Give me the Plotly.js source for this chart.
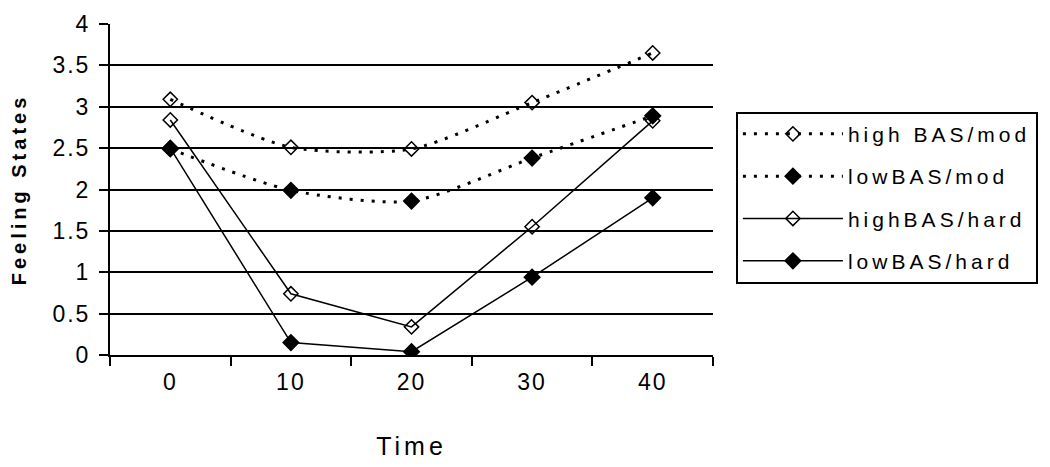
<!DOCTYPE html>
<html>
<head>
<meta charset="utf-8">
<script src="https://cdn.plot.ly/plotly-3.0.1.min.js"></script>
<style>
  html, body { margin: 0; padding: 0; background: #fff; }
  #chart { width: 1050px; height: 467px; }
  /* the old chart draws its text with wide letter spacing */
  .xtick text, .ytick text { letter-spacing: 2px; }
  .legendtext { letter-spacing: 4px; }
  .xtitle { letter-spacing: 4px; }
  .ytitle { letter-spacing: 4px; }
</style>
</head>
<body>
<div id="chart"></div>
<script>
const timePoints = ["0", "10", "20", "30", "40"];
const seriesNames = ["high BAS/mod", "lowBAS/mod", "highBAS/hard", "lowBAS/hard"];
const highBasMod = [3.09, 2.51, 2.49, 3.05, 3.65];
const lowBasMod = [2.49, 1.99, 1.86, 2.38, 2.89];
const highBasHard = [2.84, 0.74, 0.34, 1.55, 2.83];
const lowBasHard = [2.5, 0.15, 0.04, 0.94, 1.9];
const yTicks = [0, 0.5, 1, 1.5, 2, 2.5, 3, 3.5, 4];

function makeTrace(name, values, dotted, filled) {
    return {
        x: timePoints,
        y: values,
        name: name,
        type: "scatter",
        mode: "lines+markers",
        legendgroup: name,
        line: {
            color: "black",
            width: dotted ? 3 : 1.5,
            dash: dotted ? "3px,8px" : "solid",
            shape: dotted ? "spline" : "linear",
            smoothing: 0.7
        },
        marker: {
            symbol: filled ? "diamond" : "diamond-open",
            size: filled ? 12 : 11,
            color: "black",
            line: { color: "black", width: 1.5 }
        }
    };
}

const traces = [
    makeTrace(seriesNames[0], highBasMod, true, false),
    makeTrace(seriesNames[1], lowBasMod, true, true),
    makeTrace(seriesNames[2], highBasHard, false, false),
    makeTrace(seriesNames[3], lowBasHard, false, true)
];

const layout = {
    width: 1050,
    height: 467,
    margin: { l: 110, r: 334, t: 24, b: 112 },
    paper_bgcolor: "white",
    plot_bgcolor: "white",
    font: { family: "Liberation Sans, Arial, sans-serif", size: 23, color: "#000" },
    xaxis: {
        type: "category",
        range: [-0.5, 4.5],
        tickson: "boundaries",
        ticks: "outside",
        ticklen: 9,
        tickwidth: 2,
        tickcolor: "black",
        showline: true,
        linecolor: "black",
        linewidth: 2,
        showgrid: false,
        zeroline: false,
        ticklabelstandoff: 5,
        title: { text: "Time", font: { size: 25 }, standoff: 44 }
    },
    yaxis: {
        range: [0, 4],
        tickvals: yTicks,
        ticktext: yTicks.map(String),
        ticks: "outside",
        ticklen: 9,
        tickwidth: 2,
        tickcolor: "black",
        showline: true,
        linecolor: "black",
        linewidth: 2,
        showgrid: true,
        gridcolor: "black",
        gridwidth: 2,
        zeroline: false,
        ticklabelstandoff: 4,
        title: { text: "<b>Feeling States</b>", font: { size: 20 }, standoff: 20 }
    },
    legend: {
        x: 1.038,
        y: 0.735,
        xanchor: "left",
        yanchor: "top",
        bordercolor: "black",
        borderwidth: 2,
        bgcolor: "white",
        font: { size: 21 },
        itemwidth: 100,
        traceorder: "grouped",
        tracegroupgap: 12
    }
};

Plotly.newPlot("chart", traces, layout, { displayModeBar: false, staticPlot: true });
</script>
</body>
</html>
